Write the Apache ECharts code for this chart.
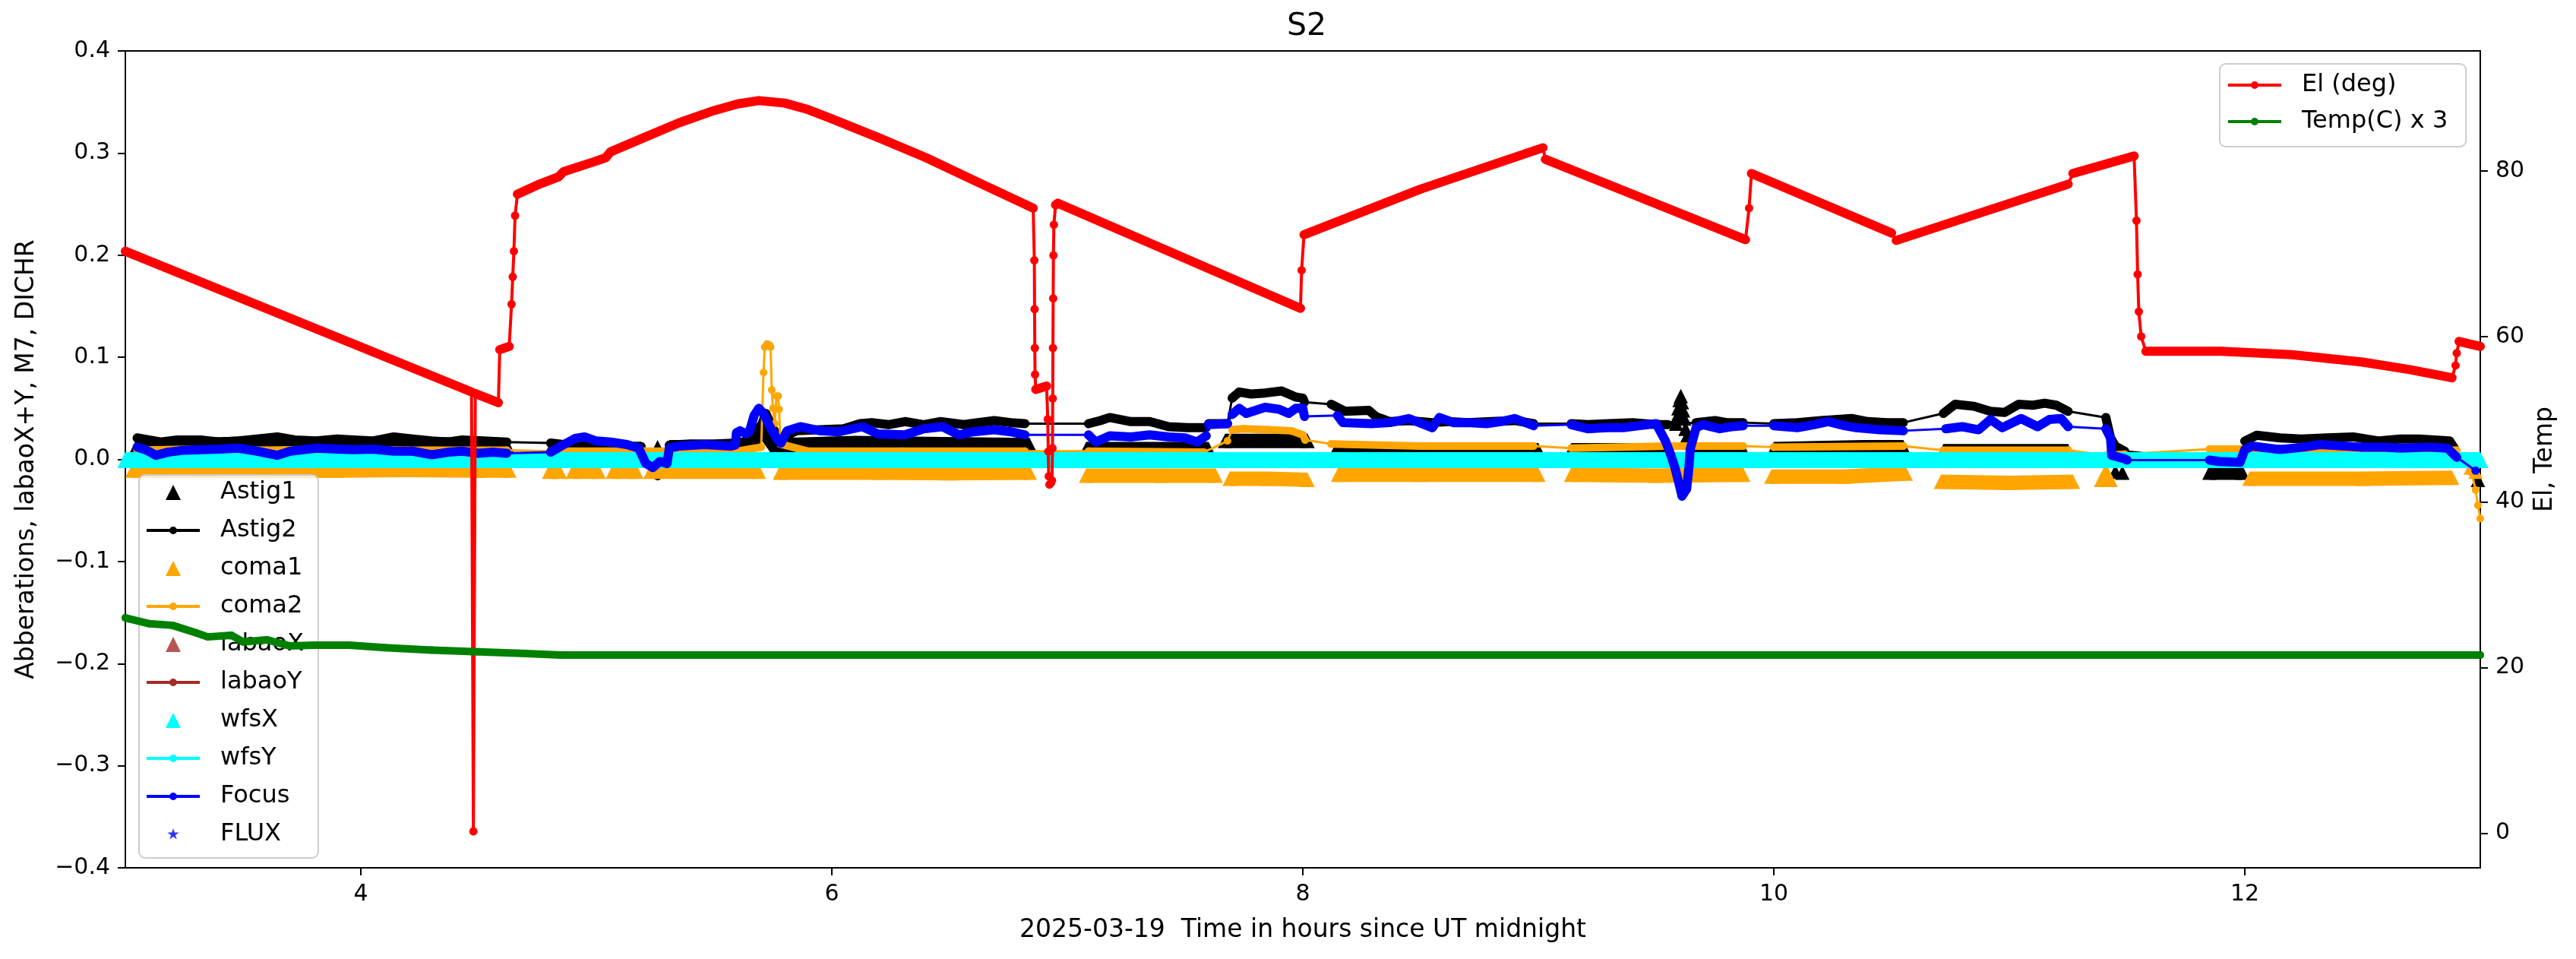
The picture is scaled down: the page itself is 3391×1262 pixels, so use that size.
<!DOCTYPE html>
<html><head><meta charset="utf-8">
<script src="https://cdn.jsdelivr.net/npm/echarts@6/dist/echarts.min.js"></script>
<style>html,body{margin:0;padding:0;background:#fff}#c{width:3391px;height:1262px}</style>
</head><body><div id="c"></div>
<script>
// ---------------- DATA ----------------
const xTicks = [4, 6, 8, 10, 12];
const rightTicks = [0, 20, 40, 60, 80];

// Focus (blue line + dots), segments of dense data
const focusSegs = [
 [[3.05,0.012],[3.09,0.009],[3.13,0.004],[3.18,0.007],[3.25,0.009],[3.32,0.0095],[3.4,0.010],[3.48,0.011],[3.56,0.008],[3.645,0.004],[3.7,0.008],[3.81,0.011],[3.9,0.010],[3.97,0.0095],[4.05,0.010],[4.14,0.008],[4.22,0.008],[4.30,0.0045],[4.37,0.007],[4.43,0.008],[4.5,0.006],[4.56,0.007],[4.62,0.006]],
 [[4.806,0.007],[4.85,0.013],[4.91,0.0205],[4.95,0.022],[5.0,0.018],[5.06,0.017],[5.13,0.0145],[5.18,0.011],[5.21,-0.004],[5.24,-0.008],[5.27,-0.002],[5.30,-0.004],[5.31,0.011],[5.35,0.013],[5.46,0.0145],[5.57,0.013],[5.59,0.014],[5.595,0.026],[5.61,0.028],[5.636,0.025],[5.65,0.027],[5.67,0.043],[5.69,0.050],[5.71,0.045],[5.735,0.033],[5.77,0.019],[5.784,0.016],[5.81,0.028],[5.866,0.032],[5.95,0.028],[6.03,0.027],[6.13,0.032],[6.195,0.025],[6.31,0.024],[6.39,0.030],[6.47,0.032],[6.54,0.024],[6.6,0.027],[6.69,0.029],[6.76,0.027],[6.82,0.024]],
 [[7.09,0.024],[7.12,0.017],[7.18,0.023],[7.27,0.022],[7.35,0.024],[7.43,0.022],[7.5,0.021],[7.55,0.017],[7.59,0.023]],
 [[7.60,0.034],[7.68,0.035]],
 [[7.70,0.044],[7.73,0.050],[7.76,0.045],[7.84,0.051],[7.9,0.049],[7.94,0.045],[7.97,0.050],[8.0,0.050],[8.007,0.042]],
 [[8.147,0.043],[8.17,0.036],[8.29,0.035],[8.37,0.036],[8.45,0.040],[8.55,0.031],[8.58,0.041],[8.64,0.036],[8.70,0.036],[8.78,0.035],[8.84,0.037],[8.90,0.040],[8.98,0.033]],
 [[9.14,0.034],[9.21,0.030],[9.29,0.031],[9.36,0.031],[9.43,0.033],[9.50,0.035],[9.54,0.018],[9.56,0.006],[9.58,-0.008],[9.60,-0.026],[9.61,-0.036],[9.63,-0.029],[9.64,-0.007],[9.645,0.010],[9.67,0.031],[9.70,0.034],[9.77,0.030],[9.82,0.032],[9.87,0.033]],
 [[10.0,0.033],[10.1,0.031],[10.17,0.034],[10.23,0.037],[10.3,0.033],[10.35,0.031],[10.45,0.029],[10.55,0.028]],
 [[10.73,0.030],[10.8,0.032],[10.87,0.029],[10.92,0.039],[10.97,0.031],[11.05,0.040],[11.12,0.032],[11.17,0.039],[11.22,0.040],[11.25,0.032]],
 [[11.41,0.030],[11.43,0.021],[11.435,0.004],[11.45,0.003],[11.49,0.0005],[11.5,-0.0007]],
 [[11.85,-0.0007],[11.89,-0.002],[11.98,-0.003],[12.0,0.0096],[12.03,0.013],[12.15,0.0096],[12.25,0.012],[12.32,0.0145],[12.49,0.012],[12.58,0.012],[12.66,0.011],[12.78,0.012],[12.86,0.011],[12.9,0.002]],
 [[12.98,-0.011]]
];

// Astig2 (black line + dots)
const astig2Segs = [
 [[3.05,0.021],[3.1,0.019],[3.15,0.017],[3.22,0.019],[3.32,0.019],[3.4,0.017],[3.48,0.018],[3.56,0.020],[3.645,0.022],[3.72,0.019],[3.81,0.018],[3.9,0.020],[3.97,0.019],[4.05,0.018],[4.14,0.022],[4.22,0.020],[4.30,0.018],[4.37,0.017],[4.43,0.019],[4.52,0.018],[4.62,0.017]],
 [[4.806,0.016],[4.88,0.014],[4.96,0.013],[5.05,0.013],[5.13,0.012],[5.19,0.0127]],
 [[5.26,-0.0165]],
 [[5.31,0.014],[5.4,0.015],[5.5,0.015],[5.6,0.016],[5.68,0.02],[5.72,0.045],[5.75,0.03],[5.78,0.02],[5.85,0.028],[5.95,0.029],[6.05,0.03],[6.12,0.035],[6.17,0.036],[6.24,0.034],[6.31,0.037],[6.39,0.034],[6.46,0.037],[6.56,0.034],[6.62,0.036],[6.69,0.038],[6.76,0.036],[6.82,0.035]],
 [[7.09,0.035],[7.14,0.038],[7.18,0.041],[7.27,0.037],[7.35,0.037],[7.43,0.032],[7.51,0.031],[7.59,0.031]],
 [[7.60,0.035],[7.68,0.035]],
 [[7.70,0.06],[7.73,0.066],[7.78,0.064],[7.84,0.065],[7.91,0.067],[7.97,0.061],[8.0,0.060],[8.007,0.056]],
 [[8.12,0.054],[8.18,0.047],[8.28,0.048],[8.31,0.042],[8.37,0.037],[8.45,0.038],[8.55,0.036],[8.62,0.037],[8.7,0.036],[8.8,0.037],[8.9,0.038],[8.98,0.035]],
 [[9.14,0.035],[9.21,0.034],[9.3,0.035],[9.4,0.036],[9.50,0.034],[9.55,0.034]],
 [[9.67,0.036],[9.75,0.038],[9.8,0.036],[9.87,0.036]],
 [[10.0,0.035],[10.1,0.036],[10.2,0.038],[10.33,0.040],[10.4,0.037],[10.48,0.036],[10.55,0.036]],
 [[10.72,0.045],[10.77,0.054],[10.85,0.052],[10.92,0.047],[10.98,0.046],[11.04,0.054],[11.10,0.053],[11.15,0.055],[11.2,0.053],[11.25,0.047]],
 [[11.41,0.041],[11.43,0.021],[11.45,0.013],[11.49,0.008]],
 [[11.86,-0.001],[11.98,-0.002]],
 [[12.0,0.018],[12.05,0.0236],[12.15,0.021],[12.24,0.020],[12.35,0.021],[12.46,0.022],[12.57,0.018],[12.66,0.020],[12.74,0.020],[12.87,0.018],[12.89,0.011]],
 [[12.99,-0.022]]
];

// coma2 (orange line + dots)
const coma2Segs = [
 [[3.05,0.009],[3.3,0.010],[3.6,0.009],[3.9,0.010],[4.2,0.009],[4.62,0.009]],
 [[4.806,0.008],[5.2,0.008],[5.6,0.008],[5.70,0.012]],
 [[5.71,0.085]],[[5.715,0.11]],[[5.725,0.113]],[[5.735,0.112]],[[5.74,0.11]],[[5.745,0.068]],[[5.75,0.05]],[[5.758,0.035]],[[5.765,0.062]],[[5.772,0.062]],[[5.776,0.049]],
 [[5.782,0.015],[5.9,0.008],[6.3,0.008],[6.82,0.008]],
 [[7.09,0.008],[7.58,0.007]],
 [[7.68,0.018]],
 [[7.70,0.029],[7.75,0.030],[7.85,0.029],[7.95,0.028],[8.0,0.024],[8.01,0.019]],
 [[8.12,0.015],[8.5,0.013],[8.98,0.013]],
 [[9.14,0.011],[9.55,0.013],[9.87,0.013]],
 [[10.0,0.012],[10.55,0.013]],
 [[10.72,0.009],[11.25,0.009]],
 [[11.41,0.004],[11.49,0.005]],
 [[11.85,0.010],[12.0,0.010],[12.9,0.009]],
 [[12.96,-0.01]],[[12.98,-0.03]],[[12.99,-0.045]],[[13.0,-0.058]]
];

// coma1 (orange triangles)
const coma1Segs = [
 [[3.03,-0.011],[3.3,-0.011],[3.6,-0.0115],[3.9,-0.011],[4.2,-0.0105],[4.5,-0.011],[4.63,-0.011]],
 [[4.80,-0.012],[4.845,-0.012]],
 [[4.90,-0.012],[5.01,-0.012]],
 [[5.07,-0.012],[5.17,-0.012]],
 [[5.23,-0.012],[5.69,-0.012]],
 [[5.78,-0.013],[6.2,-0.013],[6.5,-0.0135],[6.84,-0.013]],
 [[7.08,-0.016],[7.4,-0.016],[7.63,-0.016]],
 [[7.69,-0.019],[7.85,-0.019],[8.02,-0.020]],
 [[8.15,-0.015],[8.5,-0.015],[9.0,-0.015]],
 [[9.14,-0.015],[9.5,-0.016],[9.87,-0.015]],
 [[9.99,-0.017],[10.3,-0.017],[10.56,-0.014]],
 [[10.71,-0.022],[11.0,-0.023],[11.27,-0.022]],
 [[11.39,-0.02],[11.43,-0.02]],
 [[11.41,-0.011]],
 [[12.02,-0.019],[12.5,-0.019],[12.88,-0.018]],
 [[12.96,-0.008],[12.98,-0.012]]
];

// Astig1 (black triangles)
const astig1Segs = [
 [[3.05,0.014],[3.3,0.014],[3.6,0.016],[3.9,0.014],[4.2,0.015],[4.62,0.014]],
 [[4.81,0.012],[5.19,0.010]],
 [[5.26,0.012]],
 [[5.31,0.012],[5.6,0.012],[5.66,0.015],[5.70,0.03],[5.72,0.025],[5.76,0.012],[5.8,0.014],[6.1,0.016],[6.4,0.015],[6.84,0.014]],
 [[7.08,0.010],[7.6,0.010]],
 [[7.67,0.018],[8.02,0.018]],
 [[8.14,0.009],[9.0,0.009]],
 [[9.14,0.009],[9.55,0.009]],
 [[9.585,0.035]],[[9.59,0.042]],[[9.595,0.05]],[[9.60,0.058]],[[9.605,0.062]],[[9.61,0.056]],[[9.615,0.048]],[[9.62,0.04]],[[9.625,0.03]],[[9.63,0.022]],
 [[9.67,0.009],[9.87,0.009]],
 [[10.0,0.010],[10.38,0.012],[10.55,0.012]],
 [[10.72,0.008],[11.25,0.008]],
 [[11.45,-0.012]],[[11.48,-0.013]],
 [[11.85,-0.013],[11.99,-0.013]],
 [[12.02,0.007],[12.88,0.007]],
 [[12.99,-0.02]]
];

const wfsXSegs = [[[3.0,-0.0008],[13.0,-0.0008]]];
const wfsYSegs = [[[3.0,-0.0008],[13.0,-0.0008]]];
const labaoX = [];
const labaoY = [];
const fluxPts = [];

// Elevation (deg), right axis
const elSegs = [
 [[3.0,70.3],[4.47,53.3]],
 [[4.478,0.2]],
 [[4.486,53.1],[4.584,52.0]],
 [[4.59,58.4],[4.63,58.8]],
 [[4.64,63.9]],[[4.645,67.2]],[[4.65,70.3]],[[4.655,74.6]],
 [[4.665,77.2],[4.75,78.3],[4.84,79.3],[4.86,79.9],[5.0,81.2],[5.04,81.6],[5.06,82.3],[5.2,84.0],[5.35,85.8],[5.5,87.3],[5.6,88.1],[5.69,88.5],[5.8,88.2],[5.9,87.4],[6.0,86.3],[6.2,84.0],[6.4,81.6],[6.6,78.9],[6.855,75.5]],
 [[6.86,69.2]],[[6.861,63.3]],[[6.862,58.6]],[[6.863,55.4]],
 [[6.866,53.6],[6.912,54.0]],
 [[6.917,50.0]],[[6.919,46.1]],[[6.921,43.1]],[[6.924,42.1]],[[6.93,42.3]],[[6.935,42.6]],[[6.937,46.5]],[[6.938,52.5]],[[6.939,58.6]],[[6.94,64.6]],[[6.941,69.8]],[[6.943,73.5]],
 [[6.95,75.9],[6.96,76.1],[7.99,63.4]],
 [[7.995,68.0]],
 [[8.005,72.3],[8.5,77.8],[9.02,82.8]],
 [[9.03,81.4],[9.88,71.7]],
 [[9.895,75.5]],
 [[9.905,79.7],[10.5,72.5]],
 [[10.52,71.6],[11.25,78.4]],
 [[11.27,79.7],[11.53,81.8]],
 [[11.54,74.0]],[[11.545,67.5]],[[11.55,63.0]],[[11.56,60.0]],
 [[11.58,58.2],[11.9,58.2],[12.2,57.8],[12.5,56.9],[12.7,56.0],[12.88,55.0]],
 [[12.895,56.5]],[[12.9,58.0]],
 [[12.91,59.4],[13.0,58.8]]
];

// Temperature x3, right axis
const tempSegs = [
 [[3.0,26.0],[3.1,25.3],[3.2,25.1],[3.3,24.2],[3.35,23.7],[3.45,23.9],[3.5,23.1],[3.6,23.35],[3.7,22.6],[3.8,22.7],[3.95,22.7],[4.1,22.4],[4.3,22.1],[4.5,21.9],[4.7,21.7],[4.85,21.5],[13.0,21.5]]
];

// ---------------- BUILD ----------------
const FONT = 'DejaVu Sans';
function joinAll(segs){ const o=[]; segs.forEach(s=>s.forEach(p=>o.push(p))); return o; }
function withBreaks(segs){ const o=[]; segs.forEach((s,i)=>{ if(i>0){ const a=segs[i-1][segs[i-1].length-1][0]; o.push([(a+s[0][0])/2, null]); } s.forEach(p=>o.push(p)); }); return o; }

const common = {animation:false, silent:true, emphasis:{disabled:true}, clip:true, connectNulls:false};
function band(name, segs, color, width, z){
  return Object.assign({type:'line', name, data:withBreaks(segs), z, symbol:'triangle', symbolSize:width,
    showSymbol:true, showAllSymbol:true, lineStyle:{color, width, cap:'butt', join:'round'}, itemStyle:{color}}, common);
}
function dense(name, segs, color, width, z, yi){
  return Object.assign({type:'line', name, data:withBreaks(segs), z, yAxisIndex:yi||0, symbol:'none',
    lineStyle:{color, width, cap:'round', join:'round'}, itemStyle:{color}}, common);
}
function conn(name, segs, color, width, dot, z, yi){
  return Object.assign({type:'line', name, data:joinAll(segs), z, yAxisIndex:yi||0, symbol:'circle', symbolSize:dot,
    showSymbol:true, showAllSymbol:true, lineStyle:{color, width}, itemStyle:{color}}, common);
}

const BLACK='#000000', ORANGE='#ffa500', BROWN='#a52a2a', CYAN='#00ffff', BLUE='#0000ff', RED='#ff0000', GREEN='#008000';

const series = [
  band('Astig1', astig1Segs, BLACK, 19, 2),
  conn('Astig2', astig2Segs, BLACK, 3, 11, 3),
  dense('_Astig2', astig2Segs, BLACK, 12, 3),
  band('coma1', coma1Segs, ORANGE, 19, 4),
  conn('coma2', coma2Segs, ORANGE, 3, 10, 5),
  dense('_coma2', coma2Segs, ORANGE, 10, 5),
  Object.assign({type:'scatter', name:'labaoX', data:labaoX, symbol:'triangle', symbolSize:19, itemStyle:{color:BROWN}, z:5}, common),
  Object.assign({type:'line', name:'labaoY', data:labaoY, symbol:'circle', symbolSize:10, lineStyle:{color:BROWN,width:3}, itemStyle:{color:BROWN}, z:5}, common),
  band('wfsX', wfsXSegs, CYAN, 21, 6),
  conn('wfsY', wfsYSegs, CYAN, 10, 10, 7),
  conn('Focus', focusSegs, BLUE, 3, 11, 8),
  dense('_Focus', focusSegs, BLUE, 12, 8),
  Object.assign({type:'scatter', name:'FLUX', data:fluxPts, symbol:'pin', symbolSize:16, itemStyle:{color:BLUE}, z:8}, common),
  conn('El (deg)', elSegs, RED, 4, 11, 10, 1),
  dense('_El', elSegs, RED, 12, 10, 1),
  conn('Temp(C) x 3', tempSegs, GREEN, 4, 10, 11, 1),
  dense('_Temp', tempSegs, GREEN, 10, 11, 1)
];

// legend icons: every path spans exactly 70 x 20 so no stretching can occur
const PADPTS = 'M-35,-10L-34.99,-10Z M35,10L34.99,10Z ';
const LINEDOT = 'path://' + PADPTS + 'M-35,-2L35,-2L35,2L-35,2Z M-5,0A5,5,0,1,1,5,0A5,5,0,1,1,-5,0Z';
const TRI = 'path://' + PADPTS + 'M0,-10L10,10L-10,10Z';
const STAR = 'path://' + PADPTS + 'M0,-8L1.80,-2.47L7.61,-2.47L2.91,0.94L4.70,6.47L0,3.06L-4.70,6.47L-2.91,0.94L-7.61,-2.47L-1.80,-2.47Z';

const legendText = {fontSize:32, fontFamily:FONT, color:'#000', lineHeight:32, padding:[0,0,0,22]};
const tickText = {fontSize:30, fontFamily:FONT, color:'#000'};
const nameText = {fontSize:33, fontFamily:FONT, color:'#000'};
const axLine = {color:'#000', width:2};

function fmtLeft(v){
  if (Math.abs(v) < 1e-9) return '0.0';
  return (v < 0 ? '\u2212' : '') + Math.abs(v).toFixed(1);
}

const option = {
  backgroundColor:'#ffffff',
  animation:false,
  title:{text:'S2', left:1715, top:10, textAlign:'center', textStyle:{fontSize:41, fontWeight:'normal', fontFamily:FONT, color:'#000'}},
  grid:{left:165, top:67, width:3100, height:1075, show:true, borderColor:'#000', borderWidth:2, backgroundColor:'rgba(0,0,0,0)', containLabel:false, outerBoundsMode:'none'},
  xAxis:{type:'value', min:3, max:13,
    axisLine:{show:true, onZero:false, lineStyle:axLine},
    axisTick:{show:true, length:10, lineStyle:axLine, customValues:xTicks},
    axisLabel:Object.assign({margin:20, customValues:xTicks}, tickText),
    splitLine:{show:false},
    name:'2025-03-19  Time in hours since UT midnight', nameLocation:'middle', nameGap:66, nameTextStyle:nameText},
  yAxis:[
    {type:'value', min:-0.4, max:0.4, interval:0.1, position:'left',
      axisLine:{show:true, onZero:false, lineStyle:axLine},
      axisTick:{show:true, length:10, lineStyle:axLine},
      axisLabel:Object.assign({margin:20, formatter:fmtLeft}, tickText),
      splitLine:{show:false},
      name:'Abberations, labaoX+Y, M7, DICHR', nameLocation:'middle', nameGap:113, nameRotate:90, nameTextStyle:nameText},
    {type:'value', min:-4.2, max:94.5, position:'right',
      axisLine:{show:true, onZero:false, lineStyle:axLine},
      axisTick:{show:true, length:10, lineStyle:axLine, customValues:rightTicks},
      axisLabel:Object.assign({margin:20, customValues:rightTicks}, tickText),
      splitLine:{show:false},
      name:'El, Temp', nameLocation:'middle', nameGap:68, nameRotate:90, nameTextStyle:nameText}
  ],
  legend:[
    {orient:'vertical', left:183, top:625, itemWidth:70, itemHeight:20, itemGap:18, padding:[7,19,15,10],
      backgroundColor:'rgba(255,255,255,0.8)', borderColor:'#cccccc', borderWidth:2, borderRadius:8,
      textStyle:legendText, itemStyle:{borderWidth:0}, selectedMode:false, z:9,
      data:[{name:'Astig1',icon:TRI},{name:'Astig2',icon:LINEDOT},{name:'coma1',icon:TRI},{name:'coma2',icon:LINEDOT},
            {name:'labaoX',icon:TRI},{name:'labaoY',icon:LINEDOT},{name:'wfsX',icon:TRI},{name:'wfsY',icon:LINEDOT},
            {name:'Focus',icon:LINEDOT},{name:'FLUX',icon:STAR}]},
    {orient:'vertical', left:2922, top:84, itemWidth:70, itemHeight:20, itemGap:16, padding:[12,24,17,11],
      backgroundColor:'rgba(255,255,255,0.8)', borderColor:'#cccccc', borderWidth:2, borderRadius:8,
      textStyle:legendText, itemStyle:{borderWidth:0}, selectedMode:false, z:12,
      data:[{name:'El (deg)',icon:LINEDOT},{name:'Temp(C) x 3',icon:LINEDOT}]}
  ],
  series
};

const chart = echarts.init(document.getElementById('c'), null, {renderer:'canvas', width:3391, height:1262});
chart.setOption(option);
</script>
</body></html>
